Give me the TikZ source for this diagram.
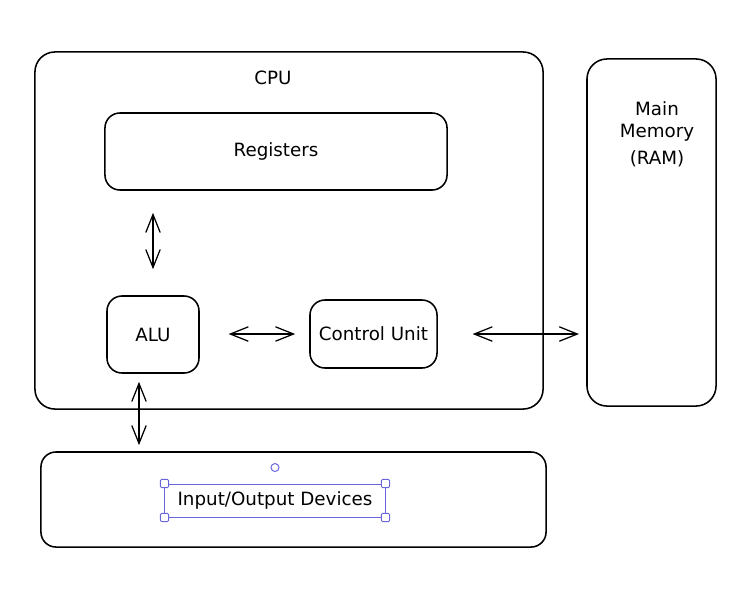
\documentclass[tikz,border=0pt]{standalone}
\usepackage{fontspec}
\setmainfont{DejaVu Sans}
\usepackage{xcolor}
\usepackage{tikz}
\usetikzlibrary{arrows.meta}
\usetikzlibrary{shapes}
\definecolor{selpurple}{RGB}{105,101,219}

\begin{document}
\begin{tikzpicture}[x=0.025cm, y=-0.025cm, line width=1.1pt,
            font=\fontsize{13}{16}\selectfont,
            box/.style={draw, rectangle, rounded corners=#1, inner sep=0pt},
            box/.default=0.375cm,
            biarrow/.style={{Straight Barb[length=4.5mm,width=3.6mm]}-{Straight Barb[length=4.5mm,width=3.6mm]}, line width=0.9pt},
            handle/.style={draw=selpurple, fill=white, rectangle, rounded corners=1pt, minimum size=0.21cm, inner sep=0pt, line width=0.7pt}]
            \useasboundingbox (0, 0) rectangle (748, 588);

            % big boxes
            \node[box=0.5cm, minimum width=12.7cm, minimum height=8.925cm] (cpu) at (289, 230.5) {};
            \node (cputitle) at (273, 78) {CPU};
            \node[box=0.5cm, minimum width=3.225cm, minimum height=8.675cm] (mem) at (651.5, 232.5) {};
            \node[align=center] (memtitle) at (657, 134) {Main\\Memory\\[3pt](RAM)};
            \node[box, minimum width=12.625cm, minimum height=2.375cm] (io) at (293.5, 499.5) {};

            % inside the cpu
            \node[box, minimum width=8.55cm, minimum height=1.925cm] (reg) at (276, 151.5) {Registers};
            \node[box, minimum width=2.3cm, minimum height=1.925cm] (alu) at (153, 334.5) {ALU};
            \node[box, minimum width=3.175cm, minimum height=1.7cm] (cu) at (373.5, 334) {Control Unit};

            % arrows
            \draw[biarrow, shorten <=0.55cm, shorten >=0.65cm] (reg.south -| alu.north) -- (alu.north);
            \draw[biarrow, shorten <=0.72cm, shorten >=0.35cm] (alu.east |- cu.west) -- (cu.west);
            \draw[biarrow, shorten <=0.87cm, shorten >=0.18cm] (cu.east) -- (cu.east -| mem.west);
            \draw[biarrow, shorten <=0.2cm, shorten >=0.15cm] ([xshift=-0.35cm]alu.south) -- ([xshift=-0.35cm]alu.south |- io.north);

            % selected text
            \node[draw=selpurple, line width=0.7pt, minimum width=5.5cm, minimum height=0.825cm] (iotext) at (275, 500.5) {Input/Output Devices};
            \foreach \c in {north west, north east, south west, south east}
                \node[handle] at (iotext.\c) {};
            \node[draw=selpurple, fill=white, circle, minimum size=0.2cm, inner sep=0pt, line width=0.7pt] (rot) at ([yshift=0.4cm]iotext.north) {};
        \end{tikzpicture}
\end{document}
